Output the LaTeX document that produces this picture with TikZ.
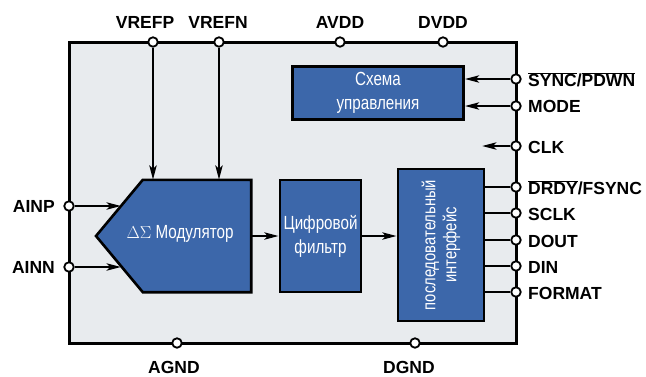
\documentclass[tikz,border=0pt]{standalone}
\usepackage{fontspec}
\setmainfont{Liberation Sans}
\newfontfamily\narrowfont[FakeStretch=0.8]{Liberation Sans}
\usetikzlibrary{arrows.meta}
\definecolor{chipgray}{RGB}{232,235,238}
\definecolor{blockblue}{RGB}{60,103,170}
\newcommand{\ovl}[1]{$\overline{\mbox{#1}}$}

\begin{document}
\begin{tikzpicture}[
        x=1pt,y=-1pt,
        font=\bfseries\fontsize{17.5}{19}\selectfont
    ]
    \tikzset{
        blkfill/.style = {draw=black, line width=2.6pt, fill=blockblue},
        txtw/.style = {text=white, font=\narrowfont\fontsize{19}{24}\selectfont, align=center},
        blk/.style = {blkfill, txtw},
        pinc/.style = {circle, draw=black, fill=white, line width=1.8pt, inner sep=0pt, minimum size=9.5pt},
        pinlbl/.style = {inner sep=1pt},
        wire/.style = {-, line width=2.8pt},
        arr/.style = {-{Stealth[length=14pt,width=7pt,inset=3pt]}, line width=2.8pt},
    }
    \useasboundingbox (0,0) rectangle (646,376);
    \draw[line width=3pt, fill=chipgray] (69,42) rectangle (516,343);
    %
    \node[blk, minimum width=171pt, minimum height=53pt] at (378,93) (ctrl) {Схема\\управления};
    \node[minimum width=108pt, minimum height=112pt, inner sep=0pt] at (197,236) (mod) {};
    \draw[blkfill] (mod.north west) -- (mod.north east) -- (mod.south east)
        -- (mod.south west) -- (96,236) -- cycle;
    \node[txtw] at (180,234) (modtxt) {$\Delta\Sigma$ Модулятор};
    \node[blk, minimum width=81pt, minimum height=112pt, inner sep=1pt] at (320.5,236) (filt) {Цифровой\\фильтр};
    \node[blkfill, minimum width=86pt, minimum height=152pt] at (441,245) (ser) {};
    \node[txtw, rotate=90, font=\narrowfont\fontsize{18.5}{21}\selectfont] at (ser.center) (sertxt) {последовательный\\интерфейс};
    %
    \node[pinc] at (153,42) (pvrefp) {};
    \node[pinc] at (219,42) (pvrefn) {};
    \node[pinc] at (340,42) (pavdd) {};
    \node[pinc] at (443,42) (pdvdd) {};
    \node[pinc] at (69,206) (painp) {};
    \node[pinc] at (69,267) (painn) {};
    \node[pinc] at (177,343) (pagnd) {};
    \node[pinc] at (415,343) (pdgnd) {};
    \node[pinc] at (516,79) (psync) {};
    \node[pinc] at (516,106) (pmode) {};
    \node[pinc] at (516,146) (pclk) {};
    \node[pinc] at (516,187) (pdrdy) {};
    \node[pinc] at (516,213) (psclk) {};
    \node[pinc] at (516,240) (pdout) {};
    \node[pinc] at (516,266) (pdin) {};
    \node[pinc] at (516,292) (pformat) {};
    \coordinate (ainpend) at (121,206);
    \coordinate (ainnend) at (121,267);
    \coordinate (clkend) at (482,146);
    %
    \draw[arr] (pvrefp) -- (pvrefp |- mod.north);
    \draw[arr] (pvrefn) -- (pvrefn |- mod.north);
    \draw[arr] (painp) -- (ainpend);
    \draw[arr] (painn) -- (ainnend);
    \draw[arr] (mod.east) -- (filt.west);
    \draw[arr] (filt.east) -- (filt.east -| ser.west);
    \draw[arr] (psync) -- (psync -| ctrl.east);
    \draw[arr] (pmode) -- (pmode -| ctrl.east);
    \draw[arr] (pclk) -- (clkend);
    \foreach \p in {pdrdy,psclk,pdout,pdin,pformat}
        \draw[wire] (\p) -- (\p -| ser.east);
    %
    \node[pinlbl] at (145,22) (lvrefp) {VREFP};
    \node[pinlbl] at (218,22) (lvrefn) {VREFN};
    \node[pinlbl] at (340,22) (lavdd) {AVDD};
    \node[pinlbl] at (443,22) (ldvdd) {DVDD};
    \node[pinlbl, anchor=east] at (56,206) (lainp) {AINP};
    \node[pinlbl, anchor=east] at (56,267) (lainn) {AINN};
    \node[pinlbl] at (174,367) (lagnd) {AGND};
    \node[pinlbl] at (409,367) (ldgnd) {DGND};
    \node[pinlbl, anchor=west] at (527,80) (lsync) {\ovl{SYNC}/\ovl{PDWN}};
    \node[pinlbl, anchor=west] at (527,106) (lmode) {MODE};
    \node[pinlbl, anchor=west] at (527,147) (lclk) {CLK};
    \node[pinlbl, anchor=west] at (527,188) (ldrdy) {\ovl{DRDY}/FSYNC};
    \node[pinlbl, anchor=west] at (527,214) (lsclk) {SCLK};
    \node[pinlbl, anchor=west] at (527,241) (ldout) {DOUT};
    \node[pinlbl, anchor=west] at (527,267) (ldin) {DIN};
    \node[pinlbl, anchor=west] at (527,293) (lformat) {FORMAT};
\end{tikzpicture}
\end{document}
